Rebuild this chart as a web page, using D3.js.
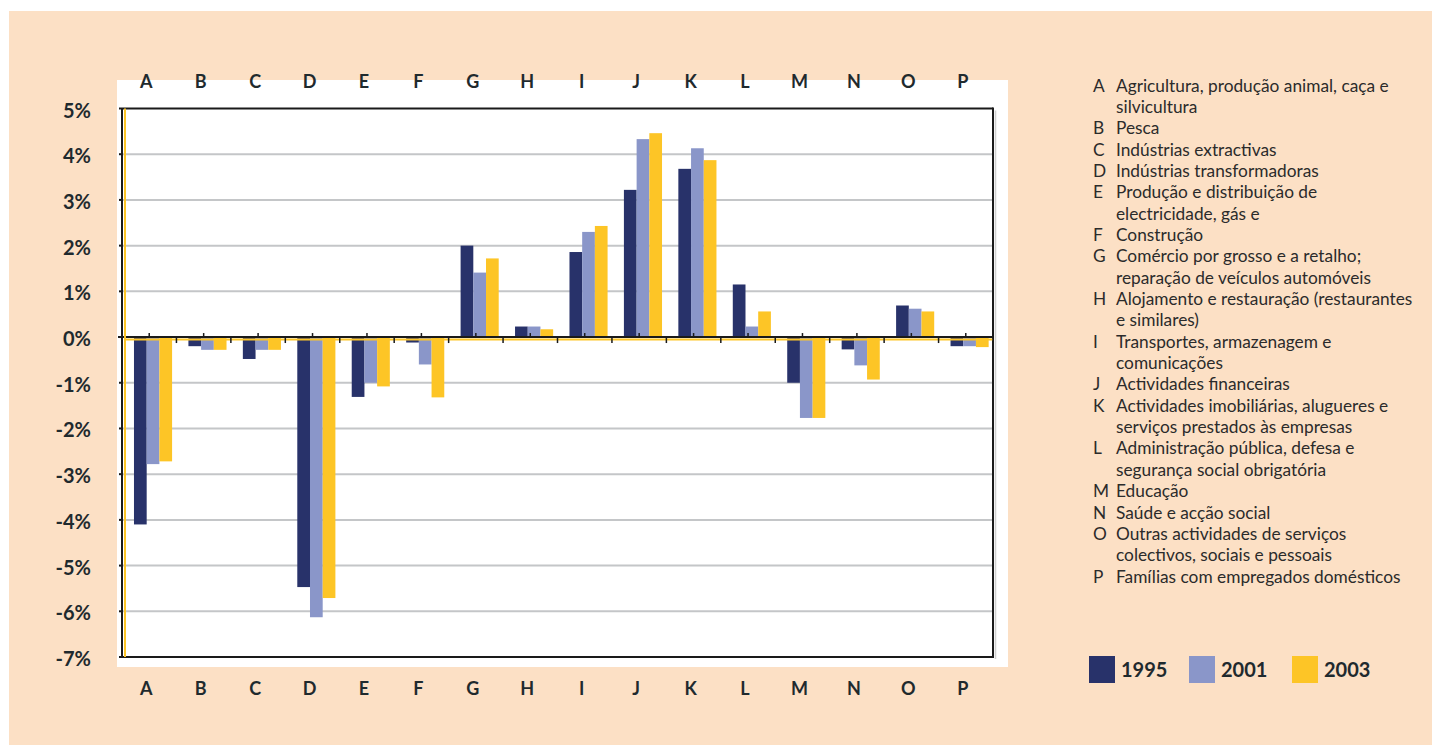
<!DOCTYPE html>
<html>
<head>
<meta charset="utf-8">
<script src="https://cdn.jsdelivr.net/npm/d3@7/dist/d3.min.js"></script>
<style>
  html, body { margin: 0; padding: 0; background: #ffffff; }
  svg { display: block; }
  text { font-family: Lato, "Open Sans", sans-serif; }
</style>
</head>
<body>
<svg id="chart" width="1432" height="745"></svg>
<script>
// Sector codes (CAE sections)
const categories = ["A","B","C","D","E","F","G","H","I","J","K","L","M","N","O","P"];
const years = ["1995","2001","2003"];

// Values per year, in percent
const v1995 = [-4.1, -0.2, -0.48, -5.47, -1.31, -0.12, 2.0, 0.23, 1.86, 3.22, 3.68, 1.15, -1.0, -0.27, 0.69, -0.2];
const v2001 = [-2.78, -0.28, -0.28, -6.13, -1.0, -0.6, 1.41, 0.23, 2.3, 4.33, 4.13, 0.23, -1.77, -0.62, 0.62, -0.2];
const v2003 = [-2.72, -0.28, -0.28, -5.71, -1.08, -1.32, 1.72, 0.17, 2.43, 4.46, 3.87, 0.56, -1.77, -0.93, 0.56, -0.22];

const yTicks = [5, 4, 3, 2, 1, 0, -1, -2, -3, -4, -5, -6, -7];

// Sector descriptions, already split into display lines
const sectorNames = [
  ["Agricultura, produção animal, caça e", "silvicultura"],
  ["Pesca"],
  ["Indústrias extractivas"],
  ["Indústrias transformadoras"],
  ["Produção e distribuição de", "electricidade, gás e"],
  ["Construção"],
  ["Comércio por grosso e a retalho;", "reparação de veículos automóveis"],
  ["Alojamento e restauração (restaurantes", "e similares)"],
  ["Transportes, armazenagem e", "comunicações"],
  ["Actividades financeiras"],
  ["Actividades imobiliárias, alugueres e", "serviços prestados às empresas"],
  ["Administração pública, defesa e", "segurança social obrigatória"],
  ["Educação"],
  ["Saúde e acção social"],
  ["Outras actividades de serviços", "colectivos, sociais e pessoais"],
  ["Famílias com empregados domésticos"]
];

const seriesValues = { "1995": v1995, "2001": v2001, "2003": v2003 };
const colors = { "1995": "#28326a", "2001": "#8a96c9", "2003": "#fdc526" };
const textColor = "#1f2a2e";

const svg = d3.select("#chart");

// page background and chart panel
svg.append("rect").attr("x", 9).attr("y", 11).attr("width", 1423).attr("height", 734).attr("fill", "#fce0c5");
svg.append("rect").attr("x", 117).attr("y", 80).attr("width", 891).attr("height", 587).attr("fill", "#ffffff");

const plot = { left: 122, right: 993, top: 108.5, bottom: 657 };

const x = d3.scaleBand().domain(categories).range([plot.left, plot.right]);
const bw = x.bandwidth();
const x1 = d3.scaleBand().domain(years).range([bw * 0.22, bw * 0.92]);
const y = d3.scaleLinear().domain([-7, 5]).range([plot.bottom, plot.top]);

// horizontal gridlines
svg.append("g").selectAll("line")
  .data(yTicks.filter(t => t !== 5 && t !== -7 && t !== 0))
  .join("line")
  .attr("x1", plot.left).attr("x2", plot.right)
  .attr("y1", d => y(d)).attr("y2", d => y(d))
  .attr("stroke", "#c4c6c8").attr("stroke-width", 2);

// bars
const rows = categories.map((c, i) => ({ c, vals: years.map(yr => ({ yr, v: seriesValues[yr][i] })) }));
svg.append("g").selectAll("g")
  .data(rows)
  .join("g")
  .attr("transform", d => `translate(${x(d.c)},0)`)
  .selectAll("rect")
  .data(d => d.vals)
  .join("rect")
  .attr("x", d => x1(d.yr))
  .attr("width", x1.bandwidth())
  .attr("y", d => y(Math.max(0, d.v)))
  .attr("height", d => Math.abs(y(d.v) - y(0)))
  .attr("fill", d => colors[d.yr]);

// frame: top, right, bottom
svg.append("line").attr("x1", plot.left).attr("x2", plot.right).attr("y1", plot.top).attr("y2", plot.top)
  .attr("stroke", "#1a1a1a").attr("stroke-width", 2);
svg.append("line").attr("x1", plot.right).attr("x2", plot.right).attr("y1", plot.top - 1).attr("y2", plot.bottom + 1)
  .attr("stroke", "#1a1a1a").attr("stroke-width", 2);
svg.append("line").attr("x1", plot.right + 2.5).attr("x2", plot.right + 2.5).attr("y1", plot.top + 2).attr("y2", plot.bottom + 2)
  .attr("stroke", "#d0d0d0").attr("stroke-width", 1.5);
svg.append("line").attr("x1", plot.left).attr("x2", plot.right).attr("y1", plot.bottom).attr("y2", plot.bottom)
  .attr("stroke", "#1a1a1a").attr("stroke-width", 2);

// zero axis: black line with a yellow rule just below it
svg.append("line").attr("x1", plot.left + 2).attr("x2", plot.right).attr("y1", y(0) + 2.5).attr("y2", y(0) + 2.5)
  .attr("stroke", "#fdc526").attr("stroke-width", 2);
svg.append("line").attr("x1", plot.left - 4).attr("x2", plot.right).attr("y1", y(0)).attr("y2", y(0))
  .attr("stroke", "#1a1a1a").attr("stroke-width", 2);
const zg = svg.append("g");
zg.selectAll("line.up").data(categories).join("line").attr("class", "up")
  .attr("x1", d => x(d) + bw / 2).attr("x2", d => x(d) + bw / 2)
  .attr("y1", y(0)).attr("y2", y(0) - 4)
  .attr("stroke", "#1a1a1a").attr("stroke-width", 1.5);
zg.selectAll("line.down").data(categories).join("line").attr("class", "down")
  .attr("x1", d => x(d) + bw).attr("x2", d => x(d) + bw)
  .attr("y1", y(0)).attr("y2", y(0) + 6)
  .attr("stroke", "#1a1a1a").attr("stroke-width", 1.5);

// left axis: yellow rule, black line, ticks
svg.append("line").attr("x1", plot.left + 3).attr("x2", plot.left + 3).attr("y1", plot.top).attr("y2", plot.bottom)
  .attr("stroke", "#fdc526").attr("stroke-width", 2);
svg.append("line").attr("x1", plot.left).attr("x2", plot.left).attr("y1", plot.top).attr("y2", plot.bottom + 1)
  .attr("stroke", "#1a1a1a").attr("stroke-width", 2);
svg.append("g").selectAll("line").data(yTicks).join("line")
  .attr("x1", plot.left - 3).attr("x2", plot.left)
  .attr("y1", d => y(d)).attr("y2", d => y(d))
  .attr("stroke", "#1a1a1a").attr("stroke-width", 2);

// y labels
svg.append("g").selectAll("text").data(yTicks).join("text")
  .attr("x", 91).attr("y", d => y(d) + 9)
  .attr("text-anchor", "end")
  .attr("font-size", 20).attr("font-weight", 700).attr("fill", textColor)
  .text(d => (d < 0 ? "-" + Math.abs(d) : d) + "%");

// category labels, above and below the panel
[88, 695].forEach(by => {
  svg.append("g").selectAll("text").data(categories).join("text")
    .attr("x", d => x(d) + bw / 2 - 3).attr("y", by)
    .attr("text-anchor", "middle")
    .attr("font-size", 18).attr("font-weight", 700).attr("fill", textColor)
    .text(d => d);
});

// sector key
const keyLines = [];
sectorNames.forEach((lines, i) => {
  lines.forEach((ln, j) => keyLines.push({ code: j === 0 ? categories[i] : "", text: ln }));
});
const lineY = (d, i) => 91.5 + i * 21.35;
const key = svg.append("g").attr("fill", "#2b2b2b").attr("font-size", 17.3);
key.selectAll("text.code").data(keyLines).join("text").attr("class", "code")
  .attr("x", 1093).attr("y", lineY).text(d => d.code);
key.selectAll("text.name").data(keyLines).join("text").attr("class", "name")
  .attr("x", 1116).attr("y", lineY).text(d => d.text);

// year legend
const legendX = { "1995": 1089, "2001": 1189, "2003": 1292 };
const lg = svg.append("g");
lg.selectAll("rect").data(years).join("rect")
  .attr("x", d => legendX[d]).attr("y", 656).attr("width", 26).attr("height", 27)
  .attr("fill", d => colors[d]);
lg.selectAll("text").data(years).join("text")
  .attr("x", d => legendX[d] + 32).attr("y", 677)
  .attr("font-size", 20).attr("font-weight", 700).attr("fill", textColor)
  .text(d => d);
</script>
</body>
</html>
